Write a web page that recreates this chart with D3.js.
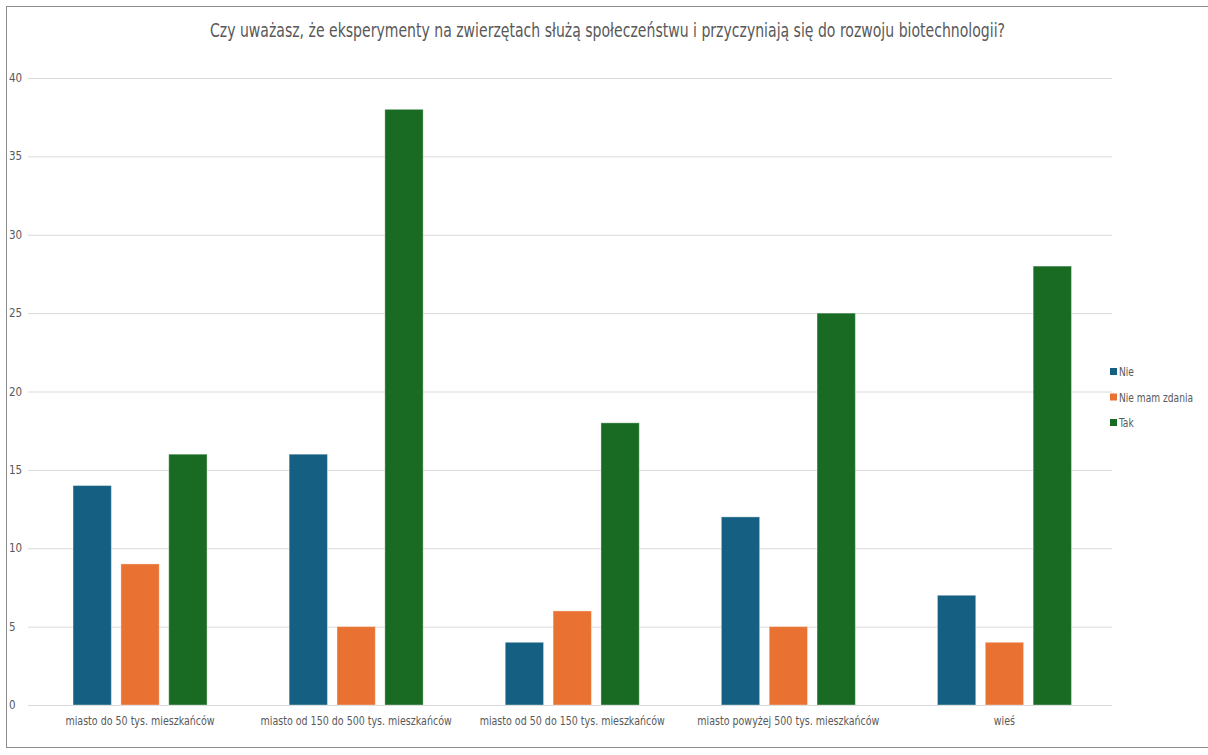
<!DOCTYPE html>
<html><head><meta charset="utf-8">
<script src="https://cdn.jsdelivr.net/npm/d3@7"></script>
<style>
body{margin:0;background:#fff;}
text{font-family:"Liberation Sans Narrow","Arial Narrow","DejaVu Sans Condensed",sans-serif;}
</style></head>
<body>
<svg id="c" width="1208" height="755"></svg>
<script>
const title = "Czy uważasz, że eksperymenty na zwierzętach służą społeczeństwu i przyczyniają się do rozwoju biotechnologii?";
const categories = ["miasto do 50 tys. mieszkańców","miasto od 150 do 500 tys. mieszkańców","miasto od 50 do 150 tys. mieszkańców","miasto powyżej 500 tys. mieszkańców","wieś"];
const seriesNames = ["Nie","Nie mam zdania","Tak"];
const nieValues = [14,16,4,12,7];
const nieMamZdaniaValues = [9,5,6,5,4];
const takValues = [16,38,18,25,28];
const yTicks = [0,5,10,15,20,25,30,35,40];
const colors = ["#156082","#E97132","#196B24"];

(function(){
const seriesValues = [nieValues, nieMamZdaniaValues, takValues];
const svg = d3.select("#c");
svg.append("rect").attr("x",6.5).attr("y",6.5).attr("width",1210).attr("height",741)
  .attr("fill","#fff").attr("stroke","#8c8c8c").attr("stroke-width",1);

const gLeft = 28, gRight = 1112, pTop = 78, pBottom = 705;
const x = d3.scaleBand().domain(categories).range([32,1112.5]).paddingInner(0).paddingOuter(0);
const y = d3.scaleLinear().domain([0,40]).range([pBottom,pTop]);
const groupW = 134;
const xs = d3.scaleBand().domain(seriesNames).range([0,groupW]).paddingInner(0.2).paddingOuter(0);

svg.append("text").attr("x",607.5).attr("y",37).attr("text-anchor","middle")
  .attr("font-size",19).attr("fill","#595959")
  .attr("textLength",795).attr("lengthAdjust","spacingAndGlyphs").text(title);

svg.append("g").selectAll("line").data(yTicks).join("line")
  .attr("x1",gLeft).attr("x2",gRight).attr("y1",d=>y(d)+0.5).attr("y2",d=>y(d)+0.5)
  .attr("stroke","#d9d9d9").attr("stroke-width",1);
svg.append("g").selectAll("text").data(yTicks).join("text")
  .attr("x",9).attr("y",d=>y(d)+4).attr("font-size",11.5).attr("fill","#595959").text(d=>d);

const groups = svg.append("g").selectAll("g").data(categories).join("g")
  .attr("transform",c=>`translate(${x(c)+x.bandwidth()/2-groupW/2},0)`);
seriesNames.forEach((s,si)=>{
  groups.append("rect")
    .attr("x",xs(s)).attr("width",xs.bandwidth())
    .attr("y",(c,i)=>y(seriesValues[si][i]))
    .attr("height",(c,i)=>y(0)-y(seriesValues[si][i]))
    .attr("fill",colors[si]).attr("stroke","#ffffff").attr("stroke-opacity",0.35).attr("stroke-width",1);
});

svg.append("g").selectAll("text").data(categories).join("text")
  .attr("x",c=>x(c)+x.bandwidth()/2).attr("y",725).attr("text-anchor","middle")
  .attr("font-size",11.5).attr("fill","#595959")
  .attr("transform",c=>{const cx=x(c)+x.bandwidth()/2;return `translate(${cx},0) scale(0.92,1) translate(${-cx},0)`;})
  .text(c=>c);

const lg = svg.append("g").selectAll("g").data(seriesNames).join("g")
  .attr("transform",(d,i)=>`translate(1110,${372+i*25.5})`);
lg.append("rect").attr("x",0).attr("y",-4).attr("width",7).attr("height",7).attr("fill",(d,i)=>colors[i]);
lg.append("text").attr("x",9).attr("y",4).attr("font-size",11.5).attr("fill","#595959")
  .attr("transform","translate(9,0) scale(0.88,1) translate(-9,0)").text(d=>d);
})();
</script>
</body></html>
